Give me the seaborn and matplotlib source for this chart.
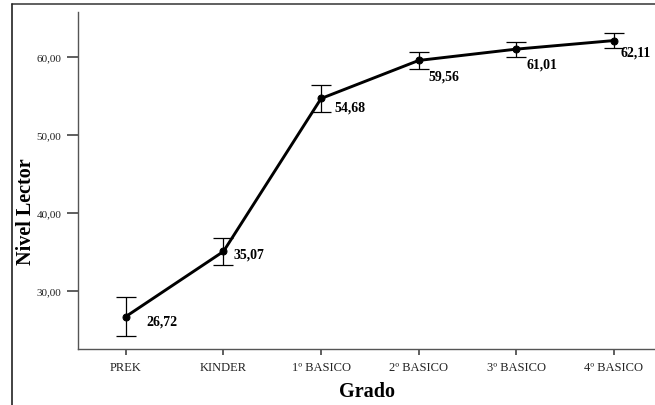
import matplotlib
matplotlib.use("Agg")
import matplotlib.pyplot as plt
from matplotlib.lines import Line2D
import seaborn as sns
import pandas as pd

grades = ["PREK", "KINDER", "1º BASICO", "2º BASICO", "3º BASICO", "4º BASICO"]
means = [26.72, 35.07, 54.68, 59.56, 61.01, 62.11]
err_low = [2.5, 1.7, 1.7, 1.05, 0.95, 1.0]
err_high = [2.5, 1.7, 1.7, 1.05, 0.95, 1.0]
y_ticks = [30, 40, 50, 60]

# label offsets (pixels right, pixels down) from each point
label_offsets = [(21, 4), (10, 3), (13, 9), (10, 16), (10, 15), (7, 11)]

sns.set_theme(style="white")
plt.rcParams["font.family"] = ["Liberation Serif", "DejaVu Serif"]

df = pd.DataFrame({"pos": range(len(grades)), "mean": means})

fig = plt.figure(figsize=(6.55, 4.06), dpi=100)
ax = fig.add_axes([78 / 655, 1 - 350 / 406, 1 - 78 / 655, (350 - 13) / 406])

ax.errorbar(df["pos"], df["mean"], yerr=[err_low, err_high], fmt="none",
            ecolor="black", elinewidth=0.9, capsize=7.5, capthick=0.9, zorder=2)
sns.lineplot(data=df, x="pos", y="mean", ax=ax, color="black", linewidth=2.1,
             marker="o", markersize=5, markeredgecolor="black", zorder=3)

for i, (m, (dx, dy)) in enumerate(zip(means, label_offsets)):
    ax.annotate(f"{m:.2f}".replace(".", ","), (i, m), xytext=(dx * 0.72, -dy * 0.72),
                textcoords="offset points", ha="left", va="center",
                fontsize=10, fontweight="bold", color="black")

ax.set_xlim(-0.49, 5.42)
ax.set_ylim(22.56, 65.77)
ax.set_xticks(range(len(grades)))
ax.set_xticklabels(grades, fontsize=9, color="#222222")
ax.set_yticks(y_ticks)
ax.set_yticklabels([f"{v:.2f}".replace(".", ",") for v in y_ticks], fontsize=8, color="#222222")

ax.tick_params(axis="y", direction="out", length=8, width=1.1, color="#333333", pad=4, left=True)
ax.tick_params(axis="x", direction="out", length=4.5, width=1.1, color="#333333", pad=4, bottom=True)

for side in ["top", "right"]:
    ax.spines[side].set_visible(False)
for side in ["left", "bottom"]:
    ax.spines[side].set_color("#555555")
    ax.spines[side].set_linewidth(1.0)

ax.set_xlabel("Grado", fontsize=14.5, fontweight="bold", color="black", labelpad=6)
ax.set_ylabel("Nivel Lector", fontsize=14.5, fontweight="bold", color="black")
ax.yaxis.set_label_coords(-0.073, 0.41)

# outer frame lines
fx = 12 / 655
fy = 1 - 5 / 406
fig.add_artist(Line2D([fx, 1.0], [fy, fy], transform=fig.transFigure, color="#444444", linewidth=1.2))
fig.add_artist(Line2D([fx, fx], [0.0, fy], transform=fig.transFigure, color="#222222", linewidth=1.2))

fig.savefig("out.png", dpi=100)
